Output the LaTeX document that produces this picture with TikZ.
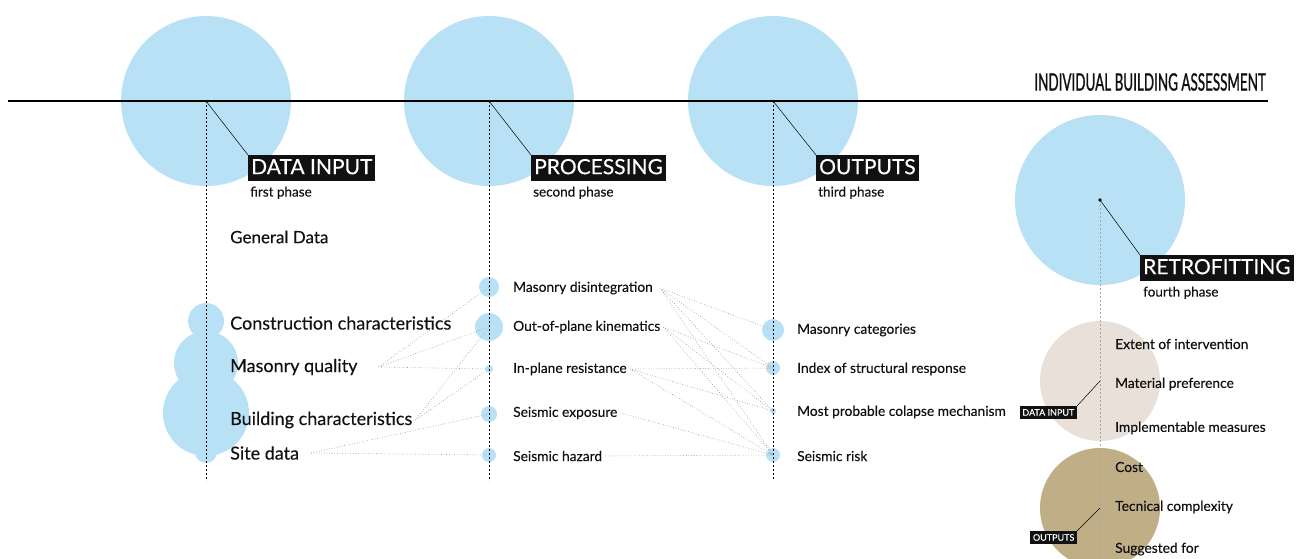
\documentclass[tikz,border=0pt]{standalone}
\usepackage{fontspec}
\setmainfont{Lato}[FakeBold=0.25]
\newfontfamily\condfont[FakeStretch=0.56,FakeBold=0.9]{Lato}
\usepackage{tikz}
\usetikzlibrary{positioning}
\definecolor{skyb}{HTML}{B9E1F6}
\definecolor{sand}{HTML}{E9E1D9}
\definecolor{khaki}{HTML}{BFAE86}
\definecolor{ink}{HTML}{111111}

\begin{document}
\begin{tikzpicture}[x=1pt,y=-1pt,
	blob/.style={circle,fill=#1,inner sep=0pt},
	phase/.style={fill=ink,text=white,font=\fontsize{21}{24}\selectfont,text height=16pt,text depth=4pt,inner sep=3pt},
	tag/.style={fill=ink,text=white,font=\fontsize{9}{10}\selectfont,text height=7pt,text depth=1pt,inner sep=2.5pt},
	sub/.style={font=\fontsize{13.5}{15}\selectfont,text=ink,inner sep=0pt},
	big/.style={font=\fontsize{18}{20}\selectfont,text=ink,inner sep=3pt,anchor=west},
	small/.style={font=\fontsize{13.8}{15}\selectfont,text=ink,inner sep=3pt,anchor=west},
	link/.style={gray!90,dotted,line width=0.6pt},
	axis/.style={dash pattern=on 2pt off 2pt,line width=0.6pt}]
	\useasboundingbox (0,0) rectangle (1304,559);
	
	\node[blob=skyb,minimum size=170pt] (c1) at (206,101) {};
	\node[blob=skyb,minimum size=170pt] (c2) at (489,101) {};
	\node[blob=skyb,minimum size=170pt] (c3) at (773,101) {};
	\node[blob=skyb,minimum size=170pt] (c4) at (1100,200) {};
	\node[blob=sand,minimum size=120pt] (b1) at (1100,381) {};
	\node[blob=khaki,minimum size=120pt] (b2) at (1100,508) {};
	
	\node[blob=skyb,minimum size=36pt] (k1) at (206,321) {};
	\node[blob=skyb,minimum size=64pt] (k2) at (206,363) {};
	\node[blob=skyb,minimum size=86pt] (k3) at (206,413) {};
	\node[blob=skyb,minimum size=22pt] (k4) at (206,452) {};
	
	\node[blob=skyb,minimum size=20pt] (cmd) at (489,287) {};
	\node[blob=skyb,minimum size=28pt] (cop) at (489,327) {};
	\node[blob=skyb,minimum size=8pt] (cip) at (489,369) {};
	\node[blob=skyb,minimum size=16pt] (cse) at (489,414) {};
	\node[blob=skyb,minimum size=14pt] (csh) at (489,455) {};
	
	\node[blob=skyb,minimum size=22pt] (cmc) at (773,330) {};
	\node[blob=skyb,minimum size=14pt] (cisr) at (773,368) {};
	\node[blob=skyb,minimum size=6pt] (cmpc) at (773,411) {};
	\node[blob=skyb,minimum size=14pt] (csr) at (773,455) {};
	
	\draw[line width=2.5pt] (8,101) -- (1268,101);
	\node[anchor=south east,inner sep=0pt,text=ink,font=\condfont\fontsize{24}{26}\selectfont] (title) at (1266,91) {INDIVIDUAL BUILDING ASSESSMENT};
	
	\coordinate (e1) at (206,481);
	\coordinate (e2) at (489,481);
	\coordinate (e3) at (773,481);
	\coordinate (e4) at (1100,559);
	\draw[axis] (c1.center) -- (e1);
	\draw[axis] (c2.center) -- (e2);
	\draw[axis] (c3.center) -- (e3);
	\draw[axis,gray!70] (c4.center) -- (e4);
	
	\node[phase,anchor=north west] (din) at (248,155) {DATA INPUT};
	\node[sub,below right=5pt and 2pt of din.south west] {first phase};
	\node[phase,anchor=north west] (proc) at (531,155) {PROCESSING};
	\node[sub,below right=5pt and 2pt of proc.south west] {second phase};
	\node[phase,anchor=north west] (out) at (816,155) {OUTPUTS};
	\node[sub,below right=5pt and 2pt of out.south west] {third phase};
	\node[phase,anchor=north west] (retro) at (1140,255) {RETROFITTING};
	\node[sub,below right=5pt and 3pt of retro.south west] {fourth phase};
	\draw[line width=0.5pt] (c1.center) -- (din.north west);
	\draw[line width=0.5pt] (c2.center) -- (proc.north west);
	\draw[line width=0.5pt] (c3.center) -- (out.north west);
	\draw[line width=0.5pt] (c4.center) -- (retro.north west);
	\fill[ink] (c4.center) circle (1.8pt);
	
	\node[big,font=\fontsize{17}{19}\selectfont] (gd) at (227,237) {General Data};
	\node[big] (cc) at (227,323) {Construction characteristics};
	\node[big] (mq) at (227,367) {Masonry quality};
	\node[big] (bc) at (227,420) {Building characteristics};
	\node[big] (sd) at (227,453) {Site data};
	
	\node[small] (md) at (510,288) {Masonry disintegration};
	\node[small] (op) at (510,327) {Out-of-plane kinematics};
	\node[small] (ip) at (510,369) {In-plane resistance};
	\node[small] (se) at (510,413) {Seismic exposure};
	\node[small] (sh) at (510,456) {Seismic hazard};
	
	\node[small] (mc) at (794,330) {Masonry categories};
	\node[small] (isr) at (794,369) {Index of structural response};
	\node[small] (mpc) at (794,412) {Most probable colapse mechanism};
	\node[small] (sr) at (794,456) {Seismic risk};
	
	\node[small] (ext) at (1112,344) {Extent of intervention};
	\node[small] (mat) at (1112,384) {Material preference};
	\node[small] (imp) at (1112,428) {Implementable measures};
	\node[small] (cost) at (1112,467) {Cost};
	\node[small] (tec) at (1112,507) {Tecnical complexity};
	\node[small] (sug) at (1112,549) {Suggested for};
	
	\node[tag,anchor=north east] (tin) at (1077,406) {DATA INPUT};
	\node[tag,anchor=north east] (tout) at (1077,531) {OUTPUTS};
	\draw[line width=0.5pt] (tin.north east) -- (b1.center);
	\draw[line width=0.5pt] (tout.north east) -- (b2.center);
	
	\draw[link] ([xshift=18pt]mq.east) -- (cmd.center) ([xshift=18pt]mq.east) -- (cop.center) ([xshift=18pt]mq.east) -- (cip.center);
	\draw[link] (bc.east) -- (cop.center) (bc.east) -- (cip.center);
	\draw[link] ([xshift=9pt]sd.east) -- (cse.center) ([xshift=9pt]sd.east) -- (csh.center);
	\draw[link] ([xshift=4pt]md.east) -- (cmc.center) ([xshift=4pt]md.east) -- (cisr.center) ([xshift=4pt]md.east) -- (cmpc.center) ([xshift=4pt]md.east) -- (csr.center);
	\draw[link] (op.east) -- (cisr.center) (op.east) -- (cmpc.center) (op.east) -- (csr.center);
	\draw[link] (ip.east) -- (cisr.center) (ip.east) -- (cmpc.center) (ip.east) -- (csr.center);
	\draw[link] (se.east) -- (csr.center);
	\draw[link] (sh.east) -- (csr.center);
\end{tikzpicture}
\end{document}
